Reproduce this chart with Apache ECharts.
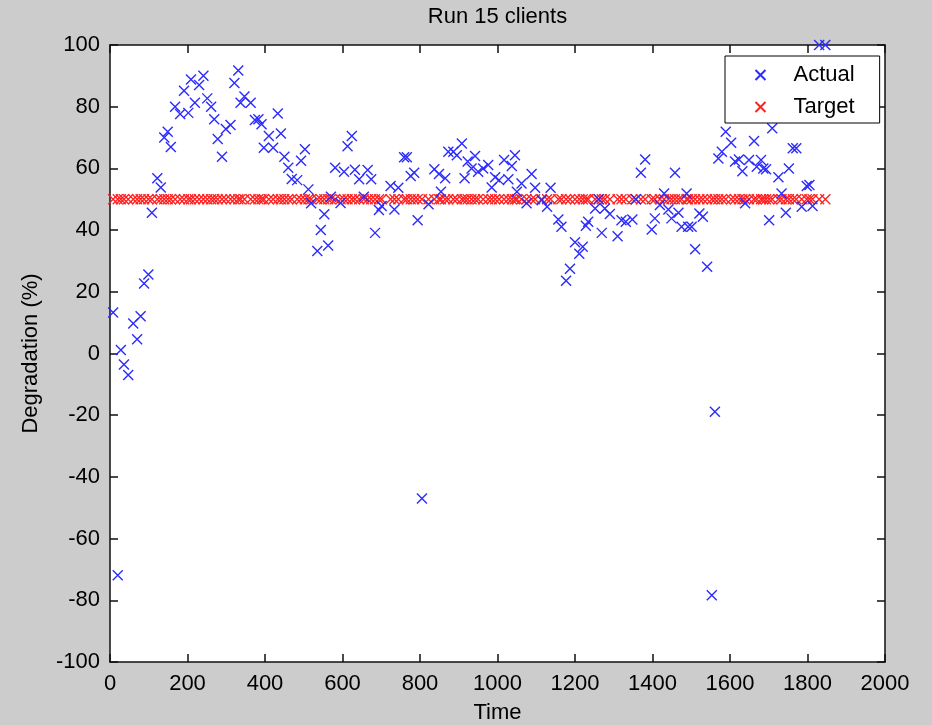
<!DOCTYPE html>
<html>
<head>
<meta charset="utf-8">
<title>Run 15 clients</title>
<script src="https://cdn.jsdelivr.net/npm/echarts@6/dist/echarts.min.js"></script>
<style>
  html, body { margin: 0; padding: 0; background: #cccccc; }
  #chart { width: 932px; height: 725px; }
</style>
</head>
<body>
<div id="chart"></div>
<script>
// Sample times (s)
const times = [
  8, 20, 28, 36, 47, 60, 70, 79, 88, 99,
  108, 122, 131, 140, 149, 157, 168, 181, 191, 202,
  209, 219, 230, 241, 251, 261, 269, 278, 289, 299,
  311, 321, 331, 337, 347, 363, 374, 383, 391, 397,
  410, 421, 433, 441, 450, 460, 469, 483, 493, 503,
  512, 519, 535, 544, 553, 563, 570, 581, 595, 604,
  613, 624, 632, 643, 655, 665, 674, 684, 694, 701,
  724, 734, 744, 759, 766, 776, 785, 794, 805, 822,
  837, 849, 854, 865, 873, 886, 895, 908, 915, 923,
  933, 942, 950, 963, 976, 985, 994, 1004, 1017, 1028,
  1037, 1045, 1050, 1062, 1075, 1088, 1097, 1114, 1128, 1137,
  1157, 1165, 1177, 1187, 1200, 1211, 1220, 1228, 1234, 1252,
  1261, 1269, 1277, 1290, 1310, 1320, 1331, 1348, 1357, 1370,
  1381, 1398, 1406, 1419, 1430, 1441, 1449, 1458, 1467, 1475,
  1488, 1492, 1501, 1510, 1521, 1530, 1541, 1553, 1561, 1570,
  1579, 1589, 1603, 1613, 1623, 1632, 1639, 1649, 1662, 1669,
  1680, 1686, 1693, 1701, 1709, 1725, 1733, 1744, 1752, 1762,
  1771, 1785, 1798, 1805, 1813, 1830, 1846
];

// Measured degradation (%) at each sample time
const actual = [
  13.3, -71.9, 1.1, -3.6, -7.0, 9.7, 4.6, 12.1, 22.7, 25.6,
  45.6, 56.8, 53.8, 70.0, 71.9, 66.9, 80.0, 77.6, 85.2, 78.0,
  88.8, 81.3, 87.0, 90.0, 82.7, 80.0, 75.9, 69.5, 63.8, 72.8,
  74.1, 87.7, 91.7, 81.3, 83.3, 81.3, 75.7, 75.9, 74.3, 66.7,
  70.5, 66.7, 77.8, 71.3, 63.8, 60.2, 56.6, 56.2, 62.5, 66.2,
  53.2, 48.7, 33.2, 40.0, 45.1, 35.0, 50.8, 60.2, 48.8, 58.9,
  67.2, 70.5, 59.6, 56.5, 50.8, 59.5, 56.5, 39.1, 46.5, 47.8,
  54.3, 46.7, 53.7, 63.6, 63.6, 57.5, 58.6, 43.2, -47.0, 48.4,
  59.7, 58.2, 52.4, 56.8, 65.4, 65.4, 64.3, 68.1, 56.8, 62.2,
  60.0, 64.0, 58.9, 60.0, 61.1, 53.8, 57.1, 56.2, 62.7, 56.5,
  60.8, 64.3, 52.4, 55.1, 48.7, 58.2, 53.7, 49.7, 47.6, 53.7,
  43.4, 41.1, 23.6, 27.5, 36.1, 32.3, 34.6, 41.4, 42.7, 47.0,
  50.0, 39.1, 47.0, 45.2, 38.0, 43.2, 42.7, 43.4, 50.0, 58.6,
  62.9, 40.2, 43.8, 48.1, 51.9, 46.7, 43.8, 58.6, 45.6, 41.1,
  51.9, 41.1, 41.1, 33.8, 45.4, 44.3, 28.1, -78.4, -18.9, 63.2,
  65.4, 71.9, 68.3, 62.2, 62.9, 59.1, 48.7, 62.7, 68.9, 60.5,
  62.7, 60.0, 59.7, 43.2, 73.0, 57.1, 51.9, 45.6, 60.0, 66.5,
  66.5, 47.6, 54.3, 54.6, 47.8, 100, 100
];

// Degradation target (%)
const targetLevel = 50;

const xTicks = { min: 0, max: 2000, interval: 200 };
const yTicks = { min: -100, max: 100, interval: 20 };

const FONT = '"Liberation Sans", Arial, sans-serif';
const CROSS = 'path://M0,0L10,10M10,0L0,10';

const actualPoints = times.map((t, i) => [t, actual[i]]);
const targetPoints = times.map(t => [t, targetLevel]);

const axisLine = { show: true, onZero: false, lineStyle: { color: '#111', width: 1.5 } };
const axisTick = { show: true, inside: true, length: 8, lineStyle: { color: '#111', width: 1.5 } };
const plainNumber = v => String(v);

const chart = echarts.init(document.getElementById('chart'), null, { renderer: 'canvas' });
chart.setOption({
  backgroundColor: '#cccccc',
  animation: false,
  title: {
    text: 'Run 15 clients',
    left: 497.5,
    top: 6,
    padding: 0,
    textAlign: 'center',
    textStyle: { fontFamily: FONT, fontSize: 22, fontWeight: 'normal', color: '#000' }
  },
  grid: {
    left: 110, top: 45, right: 47, bottom: 63,
    show: true, backgroundColor: '#ffffff', borderWidth: 0,
    containLabel: false, outerBoundsMode: 'none'
  },
  legend: {
    orient: 'vertical',
    left: 725,
    top: 56,
    padding: [8, 25, 5, 28],
    itemGap: 10,
    itemWidth: 56,
    itemHeight: 10,
    backgroundColor: '#ffffff',
    borderColor: '#000',
    borderWidth: 1,
    borderRadius: 0,
    textStyle: { fontFamily: FONT, fontSize: 22, color: '#000' },
    data: ['Actual', 'Target']
  },
  xAxis: [
    {
      type: 'value', position: 'bottom',
      min: xTicks.min, max: xTicks.max, interval: xTicks.interval,
      name: 'Time', nameLocation: 'middle', nameGap: 40,
      nameTextStyle: { fontFamily: FONT, fontSize: 22, color: '#000', verticalAlign: 'top' },
      axisLine, axisTick,
      axisLabel: { fontFamily: FONT, fontSize: 22, color: '#000', margin: 11, formatter: plainNumber },
      splitLine: { show: false }
    },
    {
      type: 'value', position: 'top',
      min: xTicks.min, max: xTicks.max, interval: xTicks.interval,
      axisLine, axisTick,
      axisLabel: { show: false },
      splitLine: { show: false }
    }
  ],
  yAxis: [
    {
      type: 'value', position: 'left',
      min: yTicks.min, max: yTicks.max, interval: yTicks.interval,
      name: 'Degradation (%)', nameLocation: 'middle', nameGap: 68, nameRotate: 90,
      nameTextStyle: { fontFamily: FONT, fontSize: 22, color: '#000' },
      axisLine, axisTick,
      axisLabel: { fontFamily: FONT, fontSize: 22, color: '#000', margin: 10, formatter: plainNumber },
      splitLine: { show: false }
    },
    {
      type: 'value', position: 'right',
      min: yTicks.min, max: yTicks.max, interval: yTicks.interval,
      axisLine, axisTick,
      axisLabel: { show: false },
      splitLine: { show: false }
    }
  ],
  series: [
    {
      name: 'Target',
      type: 'scatter',
      xAxisIndex: 0, yAxisIndex: 0,
      symbol: CROSS,
      symbolSize: 10,
      clip: false,
      z: 2,
      itemStyle: { color: 'none', borderColor: '#ff2020', borderWidth: 1.3, opacity: 1 },
      data: targetPoints
    },
    {
      name: 'Actual',
      type: 'scatter',
      xAxisIndex: 0, yAxisIndex: 0,
      symbol: CROSS,
      symbolSize: 10,
      clip: false,
      z: 3,
      itemStyle: { color: 'none', borderColor: '#2b2bff', borderWidth: 1.4, opacity: 1 },
      data: actualPoints
    }
  ]
});
</script>
</body>
</html>
